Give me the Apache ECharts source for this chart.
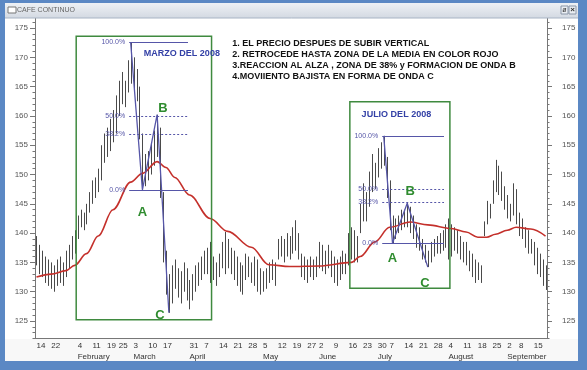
<!DOCTYPE html>
<html><head><meta charset="utf-8">
<script src="https://cdn.jsdelivr.net/npm/echarts@6/dist/echarts.min.js"></script>
<style>html,body{margin:0;padding:0;background:#fff}#c{width:587px;height:370px}</style>
</head><body><div id="c"></div>
<script>
// ---- categories: trading days 2008-01-14 .. 2008-09-19 ----
const holidays = ['2008-01-21','2008-02-18','2008-03-21','2008-05-26','2008-07-04','2008-09-01'];
const dates = [];
(function(){
  const d = new Date(Date.UTC(2008,0,14)), end = new Date(Date.UTC(2008,8,19));
  while (d <= end) {
    const s = d.toISOString().slice(0,10), w = d.getUTCDay();
    if (w !== 0 && w !== 6 && holidays.indexOf(s) < 0) dates.push(s);
    d.setUTCDate(d.getUTCDate()+1);
  }
})();

// ---- tick labels ----
const weekStarts = ['2008-01-14','2008-01-22','2008-01-28','2008-02-04','2008-02-11','2008-02-19','2008-02-25','2008-03-03','2008-03-10','2008-03-17','2008-03-24','2008-03-31','2008-04-07','2008-04-14','2008-04-21','2008-04-28','2008-05-05','2008-05-12','2008-05-19','2008-05-27','2008-06-02','2008-06-09','2008-06-16','2008-06-23','2008-06-30','2008-07-07','2008-07-14','2008-07-21','2008-07-28','2008-08-04','2008-08-11','2008-08-18','2008-08-25','2008-09-02','2008-09-08','2008-09-15'];
const weekLabels = ['14','22','','4','11','19','25','3','10','17','','31','7','14','21','28','5','12','19','27','2','9','16','23','30','7','14','21','28','4','11','18','25','2','8','15'];
const monthStarts = ['2008-02-04','2008-03-03','2008-03-31','2008-05-05','2008-06-02','2008-06-30','2008-08-04','2008-09-02'];
const monthLabels = ['February','March','April','May','June','July','August','September'];
const yMajor = [125,130,135,140,145,150,155,160,165,170,175];

// ---- daily highs / lows (one row per week) ----
const high = [
139.5,138,137,136,135.5,
135,134.5,135.5,136,
135,137,138,139.5,140.5,
143,144,143.5,145,147,
149,149.5,151,155,157,
158,159.5,161,163.5,
166,167.5,166,169.5,172.6,
170,168,165,157,153.5,
154,155.5,157.5,160.2,158,
147,137,133,134.5,
135.5,134,133.5,135,134,
132,133,134.5,135,136,
137,137.5,138.5,136,135,
136.5,138.5,140.2,139,137.5,
137,136,135,134.5,136.5,
136,135,136,135.5,134,
133.5,134,135,135.5,135,
139,139.5,139,140,139.5,
141,142.2,140,136.5,136,
135.5,136,135.5,136,
138.5,138,137,138,137,
136,135.5,136,137,136.5,
140,141,140.5,139.5,145,
148.5,147,150.5,153.5,152,
154.5,155.5,156.6,153,
149,143,142.5,143,144,
144,145.1,144.5,143,141.5,
141,139,138,137,138.5,
139,139.5,140,140.5,141.5,
142.5,141.5,141,140.5,139.5,
138.5,138.5,137,136.5,135.5,
135,134.5,142,145.5,145,
149,152.5,151.5,150.5,148,
146.5,145,148.5,147.5,
143.5,142.5,141,140.5,139,
138.5,137.5,136.5,135.5,134.5
];
const low = [
134.5,133,132.5,131.5,131,
130.5,130,131,131.5,
131,132.5,134,135.5,136.5,
139,141,140.5,141.5,143.5,
145,146,147,149,152,
153,154,155.5,157,
160,162,161.5,164,165.5,
164,162.5,156,147.4,148,
149,150,151.5,153,146,
135,129.5,126.4,128,
130.5,129,128,130,128.5,
127,128.5,130,131,132,
133,133,131.5,132,131,
132.5,134,133,134,133,
132,131,130,129.5,132,
132.5,131.5,131,130,129.5,
130,130.5,131.5,132,131,
135.5,136,135,136,135.5,
136.5,137,135.5,132.5,132,
131.5,132.5,132,132.5,
134,133.5,133,134,132.5,
131.5,131,132,133,133,
134.5,135.5,135,135,140,
142,142,144.5,147,147.5,
149.5,151,151.5,146,
140.5,138.3,139,140,140.5,
141,141,140,139,137.5,
137,135.5,135,134.2,135,
136,136.5,136.5,137,137.5,
135.5,136,137,136.5,135.5,
135,134.5,133.5,132.5,131.5,
132,131.5,139.5,141.5,142.5,
145,147,146.5,145.5,144,
142.5,142,143,141.5,
139.5,139,137.5,136.5,136.5,
134.5,133,132.5,131,130.3
];

// ---- moving average (red), read at these days ----
const maDays = ['2008-01-14','2008-01-22','2008-01-29','2008-02-01','2008-02-07','2008-02-13','2008-02-21','2008-02-29','2008-03-06','2008-03-13','2008-03-18','2008-03-24','2008-03-31','2008-04-09','2008-04-17','2008-04-29','2008-05-07','2008-05-16','2008-06-02','2008-06-17','2008-06-20','2008-06-27','2008-07-07','2008-07-16','2008-07-24','2008-08-05','2008-08-12','2008-08-18','2008-08-21','2008-08-26','2008-09-02','2008-09-05','2008-09-12','2008-09-19'];
const maVals = [132.5,133,133.6,134.5,136.5,139.5,144,148.7,150.2,152.2,151.2,149.5,146.5,142.5,140.3,137.6,134.6,134.3,134.4,135,136,138.5,141,141.9,141.4,140.8,140.2,139.3,139.3,139.8,140.5,141,140.7,139.5];

// ---- Elliott A-B-C swings ----
const marchWaveDays = ['2008-02-29','2008-03-06','2008-03-13','2008-03-19'];
const marchWaveVals = [172.6,147.4,160.2,126.4];
const julyWaveDays = ['2008-07-02','2008-07-08','2008-07-15','2008-07-24'];
const julyWaveVals = [156.6,138.3,145.1,134.2];

// ---- Fibonacci levels ----
const fibNames = ['100.0%','50.0%','38.2%','0.0%'];
const marchFib = [172.6,160.0,157.0,147.4];
const julyFib = [156.6,147.45,145.3,138.3];
const marchFibSpan = ['2008-02-29','2008-03-31'];
const julyFibSpan = ['2008-07-02','2008-08-01'];

// ---- boxes: [firstDay, lastDay, top, bottom] ----
const boxFirst = ['2008-02-04','2008-06-17'];
const boxLast = ['2008-04-09','2008-08-04'];
const boxTop = [173.6,162.4];
const boxBottom = [125.2,130.6];

// ---- texts ----
const titleTexts = ['MARZO DEL 2008','JULIO DEL 2008'];
const titleDays = ['2008-03-07','2008-06-23'];
const titleVals = [170.7,160.2];
const notes = ['1. EL PRECIO DESPUES DE SUBIR VERTICAL','2. RETROCEDE HASTA ZONA DE LA MEDIA EN COLOR ROJO','3.REACCION AL ALZA , ZONA DE 38% y FORMACION DE ONDA B','4.MOVIIENTO BAJISTA EN FORMA DE ONDA C'];
const noteDay = '2008-04-21';
const noteVals = [172.3,170.4,168.6,166.7];
const letters = ['B','A','C','B','A','C'];
const letterDays = ['2008-03-17','2008-03-06','2008-03-14','2008-07-16','2008-07-08','2008-07-23'];
const letterVals = [161.2,143.5,125.9,147.2,135.6,131.5];

// ---------------- build ----------------
const idx = s => dates.indexOf(s);
const dayTickSet = new Set(weekStarts.map(idx));
const dayLabelMap = {}; weekStarts.forEach((s,i)=>dayLabelMap[idx(s)] = weekLabels[i]);
const monTickSet = new Set(monthStarts.map(idx));
const monLabelMap = {}; monthStarts.forEach((s,i)=>monLabelMap[idx(s)] = monthLabels[i]);
const yMinor = []; for (let v = 122; v <= 177; v++) yMinor.push(v);

const FONT = '"Liberation Sans", Arial, sans-serif';
const FIBC = '#5656a8';

function yAx(pos, major) {
  return {type:'value', position:pos, min:122, max:177, interval:1,
    axisLine:{show:major, lineStyle:{color:'#777'}}, splitLine:{show:false},
    axisTick:{show:true, length: major?5:2.5, customValues: major?yMajor:yMinor, lineStyle:{color:'#777'}},
    axisLabel:{show:major, customValues:yMajor, fontSize:8, color:'#555', fontFamily:FONT,
      margin: pos==='left'?7:15, formatter: v => (v%5===0 ? String(v) : '')}};
}

const ohlcData = high.map((h,i)=>[i,h,low[i]]);
const maData = new Array(dates.length).fill(null);
maDays.forEach((d,i)=>{ maData[idx(d)] = maVals[i]; });

const fibData = [];
fibNames.forEach((n,k)=>{
  fibData.push([idx(marchFibSpan[0]), idx(marchFibSpan[1]), marchFib[k], k===1||k===2?1:0, n]);
  fibData.push([idx(julyFibSpan[0]), idx(julyFibSpan[1]), julyFib[k], k===1||k===2?1:0, n]);
});
const boxData = boxFirst.map((s,i)=>[idx(s), idx(boxLast[i]), boxTop[i], boxBottom[i]]);
const textItems = [];
titleTexts.forEach((t,i)=>textItems.push({x:idx(titleDays[i]), y:titleVals[i], t, kind:'title'}));
notes.forEach((t,i)=>textItems.push({x:idx(noteDay), y:noteVals[i], t, kind:'note'}));
letters.forEach((t,i)=>textItems.push({x:idx(letterDays[i]), y:letterVals[i], t, kind:'letter'}));

const chart = echarts.init(document.getElementById('c'), null, {renderer:'canvas'});
chart.setOption({
  animation:false,
  backgroundColor:'#5b88c4',
  grid:{left:35, right:40, top:16.3, bottom:31.4},
  xAxis:[
    {type:'category', data:dates, boundaryGap:true,
     axisLine:{lineStyle:{color:'#777'}},
     axisTick:{interval:(i)=>dayTickSet.has(i), length:11, lineStyle:{color:'#777'}},
     axisLabel:{interval:(i)=>dayTickSet.has(i), formatter:(v,i)=>dayLabelMap[i]||'', align:'left',
       margin:3, fontSize:8, color:'#333', fontFamily:FONT},
     splitLine:{show:false}},
    {type:'category', data:dates, boundaryGap:true, position:'bottom', offset:12,
     axisLine:{show:false},
     axisTick:{interval:(i)=>monTickSet.has(i), length:10, lineStyle:{color:'#777'}},
     axisLabel:{interval:(i)=>monTickSet.has(i), formatter:(v,i)=>monLabelMap[i]||'', align:'left',
       margin:2, fontSize:8, color:'#333', fontFamily:FONT},
     splitLine:{show:false}}
  ],
  yAxis:[yAx('left',true), yAx('left',false), yAx('right',true), yAx('right',false)],
  graphic:[
    {type:'rect', z:-10, shape:{x:5,y:3,width:573,height:358}, style:{fill:'#ffffff'}},
    {type:'rect', z:-9, shape:{x:5,y:339,width:573,height:22}, style:{fill:'#f8f8f8'}},
    {type:'rect', z:100, shape:{x:5,y:3,width:573,height:15},
      style:{fill:new echarts.graphic.LinearGradient(0,0,0,1,[{offset:0,color:'#eef1f5'},{offset:1,color:'#d3d9e2'}])}},
    {type:'line', z:100, shape:{x1:5,y1:18,x2:578,y2:18}, style:{stroke:'#a8b4c4',lineWidth:1}},
    {type:'rect', z:101, shape:{x:8,y:7,width:8,height:6}, style:{fill:'#fff',stroke:'#777',lineWidth:1}},
    {type:'text', z:101, x:17, y:10.5, style:{text:'CAFE CONTINUO', fill:'#666', font:'7px '+FONT, verticalAlign:'middle'}},
    {type:'rect', z:101, shape:{x:561,y:6,width:7,height:8}, style:{fill:'#e9edf2',stroke:'#8a96a8',lineWidth:1}},
    {type:'rect', z:101, shape:{x:569,y:6,width:7,height:8}, style:{fill:'#e9edf2',stroke:'#8a96a8',lineWidth:1}},
    {type:'text', z:102, x:572.5, y:10, style:{text:'×', fill:'#333', font:'bold 8px '+FONT, align:'center', verticalAlign:'middle'}},
    {type:'text', z:102, x:564.5, y:10, style:{text:'ø', fill:'#333', font:'7px '+FONT, align:'center', verticalAlign:'middle'}}
  ],
  series:[
    {type:'custom', name:'bars', xAxisIndex:0, yAxisIndex:0, clip:true, z:2,
     encode:{x:0, y:[1,2]}, data:ohlcData,
     renderItem:(p,api)=>{
       const a = api.coord([api.value(0), api.value(1)]);
       const b = api.coord([api.value(0), api.value(2)]);
       const x = Math.round(a[0]) + 0.5;
       return {type:'line', shape:{x1:x,y1:a[1],x2:x,y2:b[1]}, style:{stroke:'#4a4a4a', lineWidth:1}};
     }},
    {type:'line', name:'ma', data:maData, connectNulls:true, smooth:0.35, smoothMonotone:'x',
     showSymbol:false, z:4, lineStyle:{color:'#c4302b', width:1.6}},
    {type:'custom', name:'boxes', clip:true, z:6, encode:{x:[0,1], y:[2,3]}, data:boxData,
     renderItem:(p,api)=>{
       const bw = api.size([1,0])[0];
       const a = api.coord([api.value(0), api.value(2)]);
       const b = api.coord([api.value(1), api.value(3)]);
       return {type:'rect', shape:{x:a[0]-bw/2, y:a[1], width:(b[0]+bw/2)-(a[0]-bw/2), height:b[1]-a[1]},
         style:{fill:null, stroke:'#3f8a3f', lineWidth:1.5}};
     }},
    {type:'custom', name:'fib', clip:false, z:5, encode:{x:[0,1], y:2}, data:fibData.map(r=>r.slice(0,4)),
     renderItem:(p,api)=>{
       const bw = api.size([1,0])[0];
       const a = api.coord([api.value(0), api.value(2)]);
       const b = api.coord([api.value(1), api.value(2)]);
       const dashed = api.value(3) === 1;
       const y = Math.round(a[1]) + 0.5;
       return {type:'group', children:[
         {type:'line', shape:{x1:a[0]-bw/2, y1:y, x2:b[0]-bw/2, y2:y},
          style:{stroke:FIBC, lineWidth:1, lineDash: dashed?[2,2]:null}},
         {type:'text', x:a[0]-bw/2-4, y:y, style:{text:fibData[p.dataIndex][4], fill:FIBC,
          font:'7px '+FONT, align:'right', verticalAlign:'middle'}}
       ]};
     }},
    {type:'line', name:'marchWave', data:marchWaveDays.map((d,i)=>[idx(d), marchWaveVals[i]]),
     showSymbol:false, z:5, lineStyle:{color:FIBC, width:1.3}},
    {type:'line', name:'julyWave', data:julyWaveDays.map((d,i)=>[idx(d), julyWaveVals[i]]),
     showSymbol:false, z:5, lineStyle:{color:FIBC, width:1.3}},
    {type:'custom', name:'texts', clip:false, z:8, encode:{x:0, y:1},
     data:textItems.map(t=>[t.x, t.y]),
     renderItem:(p,api)=>{
       const it = textItems[p.dataIndex];
       const bw = api.size([1,0])[0];
       const c = api.coord([api.value(0), api.value(1)]);
       if (it.kind === 'letter')
         return {type:'text', x:c[0], y:c[1], style:{text:it.t, fill:'#2f8c2f', font:'bold 13px '+FONT, align:'center', verticalAlign:'middle'}};
       if (it.kind === 'title')
         return {type:'text', x:c[0]-bw/2, y:c[1], style:{text:it.t, fill:'#3340a6', font:'bold 9px '+FONT, align:'left', verticalAlign:'middle'}};
       return {type:'text', x:c[0]-bw/2, y:c[1], style:{text:it.t, fill:'#111', font:'bold 9px '+FONT, align:'left', verticalAlign:'middle'}};
     }}
  ]
});
</script>
</body></html>
